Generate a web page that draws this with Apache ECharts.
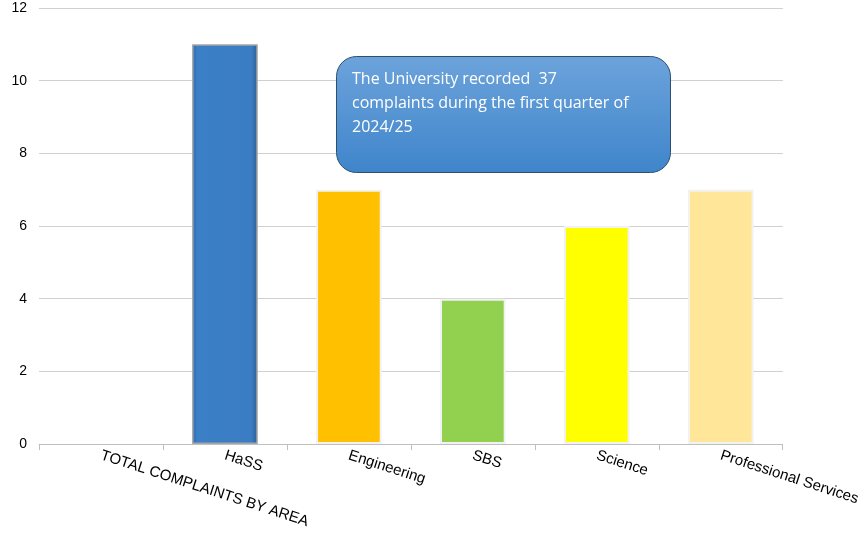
<!DOCTYPE html>
<html>
<head>
<meta charset="utf-8">
<script src="https://cdn.jsdelivr.net/npm/echarts@6/dist/echarts.min.js"></script>
<style>
  html, body { margin: 0; padding: 0; background: #fff; }
  #chart { width: 863px; height: 534px; }
</style>
</head>
<body>
<div id="chart"></div>
<script>
// categories and values
const categories = ['TOTAL COMPLAINTS BY AREA', 'HaSS', 'Engineering', 'SBS', 'Science', 'Professional Services'];
const complaints = [null, 11, 7, 4, 6, 7];
const barColors = ['#3A7DC4', '#3A7DC4', '#FFC000', '#92D050', '#FFFF00', '#FFE699'];
const noteLines = ['The University recorded  37', 'complaints during the first quarter of', '2024/25'];

const chart = echarts.init(document.getElementById('chart'));

// HaSS bar has a bevelled look, others are flat with a light edge
const barData = complaints.map((v, i) => {
    if (i === 1) {
        return {
            value: v,
            itemStyle: {
                color: new echarts.graphic.LinearGradient(0, 0, 1, 0, [
                    { offset: 0, color: '#2E6AAB' },
                    { offset: 0.08, color: '#3B7FC6' },
                    { offset: 0.9, color: '#3A7DC4' },
                    { offset: 1, color: '#2A5E96' }
                ]),
                borderColor: '#a6a6a6',
                borderWidth: 1.5
            }
        };
    }
    return {
        value: v,
        itemStyle: { color: barColors[i], borderColor: '#f2f2f2', borderWidth: 2 }
    };
});

const option = {
    animation: false,
    grid: { left: 39, right: 79, top: 8, bottom: 90 },
    xAxis: {
        type: 'category',
        data: categories,
        axisLine: { lineStyle: { color: '#bfbfbf' } },
        axisTick: { show: true, length: 6, lineStyle: { color: '#bfbfbf' } },
        axisLabel: {
            rotate: -18,
            interval: 0,
            color: '#000',
            fontFamily: 'Liberation Sans, Arial',
            fontSize: 15,
            margin: 11
        }
    },
    yAxis: {
        type: 'value',
        min: 0,
        max: 12,
        interval: 2,
        axisLine: { show: false },
        axisTick: { show: false },
        axisLabel: { color: '#000', fontFamily: 'Liberation Sans, Arial', fontSize: 14, margin: 12 },
        splitLine: { lineStyle: { color: '#d0d0d0' } }
    },
    series: [{
        type: 'bar',
        data: barData,
        barWidth: '53%'
    }],
    graphic: [
        {
            type: 'rect',
            z: 100,
            left: 336,
            top: 56,
            shape: { width: 334, height: 116, r: 20 },
            style: {
                fill: new echarts.graphic.LinearGradient(0, 0, 0, 1, [
                    { offset: 0, color: '#6CA3DB' },
                    { offset: 1, color: '#3F85CB' }
                ]),
                stroke: '#2F4F6F',
                lineWidth: 1
            }
        },
        {
            type: 'text',
            z: 101,
            left: 352,
            top: 67,
            style: {
                text: noteLines.join('\n'),
                fill: '#fff',
                fontFamily: 'Open Sans, Lato, sans-serif',
                fontSize: 16,
                lineHeight: 24
            }
        }
    ]
};

chart.setOption(option);
</script>
</body>
</html>
